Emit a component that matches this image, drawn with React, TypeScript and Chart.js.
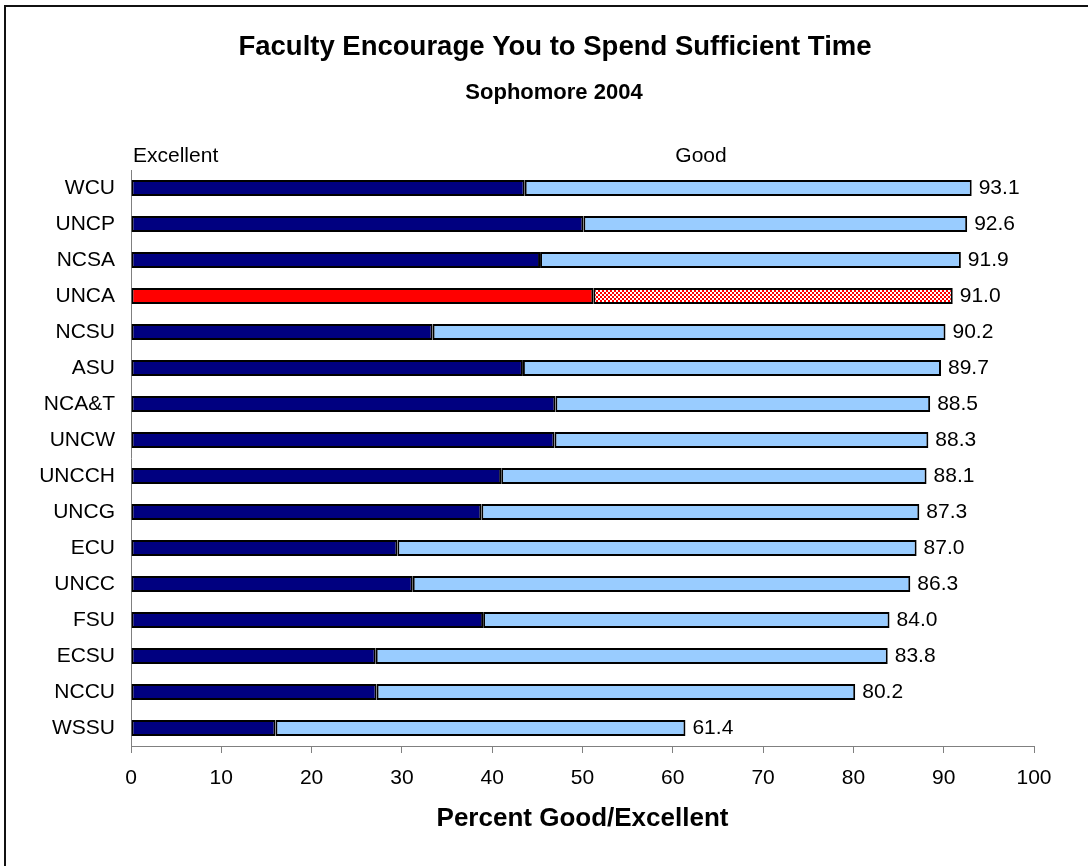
import React, { useEffect, useRef } from "react";
import { Chart, registerables } from "chart.js";

Chart.register(...registerables);

const FONT = "'Liberation Sans', Arial, Helvetica, sans-serif";

const schools = ["WCU", "UNCP", "NCSA", "UNCA", "NCSU", "ASU", "NCA&T", "UNCW", "UNCCH", "UNCG", "ECU", "UNCC", "FSU", "ECSU", "NCCU", "WSSU"];
const totals = [93.1, 92.6, 91.9, 91.0, 90.2, 89.7, 88.5, 88.3, 88.1, 87.3, 87.0, 86.3, 84.0, 83.8, 80.2, 61.4];
const excellent = [43.6, 50.1, 45.3, 51.2, 33.4, 43.4, 47.0, 46.9, 41.0, 38.8, 29.5, 31.2, 39.0, 27.1, 27.2, 16.0];
const good = totals.map((t, i) => Math.round((t - excellent[i]) * 10) / 10);
const highlight = "UNCA";
const titleText = "Faculty Encourage You to Spend Sufficient Time";
const subtitleText = "Sophomore 2004";
const xTitle = "Percent Good/Excellent";
const seriesLabels = ["Excellent", "Good"];

function makeChecker(): CanvasPattern | string {
  const c = document.createElement("canvas");
  c.width = 4;
  c.height = 4;
  const g = c.getContext("2d");
  if (!g) return "#FF0000";
  g.fillStyle = "#FFFFFF";
  g.fillRect(0, 0, 4, 4);
  g.fillStyle = "#FF0000";
  g.fillRect(0, 0, 2, 2);
  g.fillRect(2, 2, 2, 2);
  const p = g.createPattern(c, "repeat");
  return p || "#FF0000";
}

const textPlugin = {
  id: "textPlugin",
  afterDraw(chart: any) {
    const ctx = chart.ctx;
    ctx.save();
    ctx.fillStyle = "#000";
    ctx.textBaseline = "alphabetic";
    ctx.textAlign = "center";
    ctx.font = `bold 27.5px ${FONT}`;
    ctx.fillText(titleText, 555, 55);
    ctx.font = `bold 22px ${FONT}`;
    ctx.fillText(subtitleText, 554, 99);
    ctx.font = `21px ${FONT}`;
    ctx.textAlign = "left";
    ctx.fillText(seriesLabels[0], 133, 162);
    ctx.textAlign = "center";
    ctx.fillText(seriesLabels[1], 701, 162);

    // value labels
    const meta = chart.getDatasetMeta(1);
    ctx.textAlign = "left";
    ctx.textBaseline = "middle";
    ctx.font = `21px ${FONT}`;
    meta.data.forEach((bar: any, i: number) => {
      ctx.fillText(totals[i].toFixed(1), bar.x + 7, bar.y);
    });
    ctx.restore();
  },
};

export default function App() {
  const ref = useRef<HTMLCanvasElement | null>(null);

  useEffect(() => {
    if (!ref.current) return;
    const checker = makeChecker();
    const chart = new Chart(ref.current, {
      type: "bar",
      data: {
        labels: schools,
        datasets: [
          {
            label: seriesLabels[0],
            data: excellent,
            backgroundColor: schools.map((s) => (s === highlight ? "#FF0000" : "#000080")),
            borderColor: "#000000",
            borderWidth: 2,
            borderSkipped: false,
            barPercentage: 0.44,
            categoryPercentage: 1,
          },
          {
            label: seriesLabels[1],
            data: good,
            backgroundColor: schools.map((s) => (s === highlight ? checker : "#99CCFF")) as any,
            borderColor: "#000000",
            borderWidth: 2,
            borderSkipped: false,
            barPercentage: 0.44,
            categoryPercentage: 1,
          },
        ],
      },
      options: {
        indexAxis: "y",
        responsive: false,
        maintainAspectRatio: false,
        animation: false,
        layout: { padding: { left: 0, right: 54, top: 170, bottom: 0 } },
        plugins: {
          legend: { display: false },
          tooltip: { enabled: false },
          title: { display: false },
        },
        scales: {
          x: {
            stacked: true,
            min: 0,
            max: 100,
            ticks: { stepSize: 10, color: "#000", font: { size: 21, family: FONT }, padding: 13 },
            grid: { drawOnChartArea: false, drawTicks: true, tickLength: 7, color: "#808080" },
            border: { color: "#808080", width: 1 },
            title: {
              display: true,
              text: xTitle,
              color: "#000",
              font: { size: 26, weight: "bold", family: FONT },
              padding: { top: 0, bottom: 32 },
            },
            afterFit: (s: any) => {
              s.height = 120;
            },
          },
          y: {
            stacked: true,
            ticks: { color: "#000", font: { size: 21, family: FONT }, padding: 16, autoSkip: false },
            grid: { display: false, drawTicks: false },
            border: { color: "#808080", width: 1 },
            afterFit: (s: any) => {
              s.width = 131;
            },
          },
        },
      } as any,
      plugins: [textPlugin],
    });
    return () => chart.destroy();
  }, []);

  return (
    <div style={{ position: "fixed", left: 0, top: 0, width: 1088, height: 866, background: "#fff", overflow: "hidden" }}>
      <canvas ref={ref} width={1088} height={866} style={{ position: "absolute", left: 0, top: 0, width: 1088, height: 866 }} />
      <div
        style={{
          position: "absolute",
          left: 4,
          top: 5,
          width: 1130,
          height: 920,
          border: "2px solid #111",
          boxSizing: "border-box",
          pointerEvents: "none",
        }}
      />
    </div>
  );
}
